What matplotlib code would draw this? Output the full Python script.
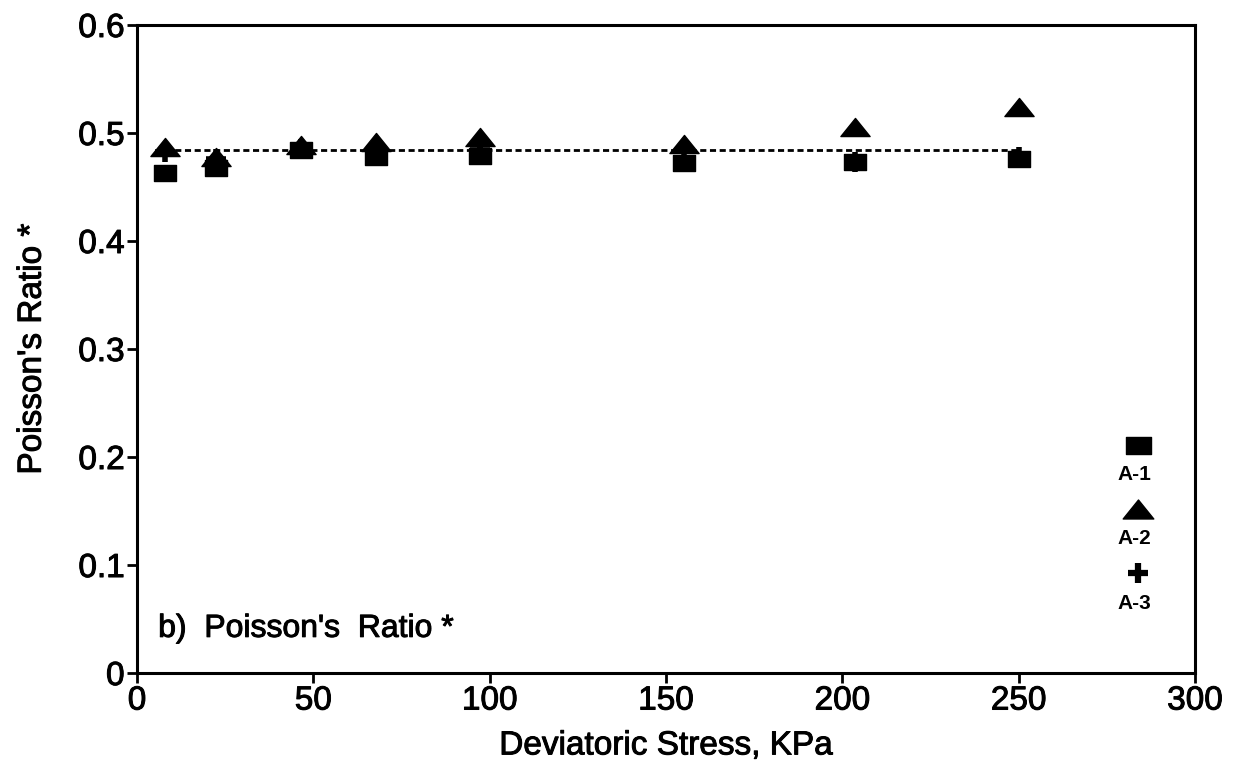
import matplotlib
matplotlib.use("Agg")
import matplotlib.pyplot as plt
import matplotlib.patheffects as pe
from matplotlib.path import Path

plt.rcParams['font.family'] = ['Liberation Sans', 'DejaVu Sans']

# Deviatoric stress levels (kPa)
stress = [8, 22.5, 46.5, 67.8, 97.3, 155.1, 203.5, 250]

# Poisson's ratio for each specimen
a1 = [0.463, 0.468, 0.484, 0.478, 0.479, 0.472, 0.473, 0.476]
a2 = [0.487, 0.478, 0.489, 0.492, 0.496, 0.490, 0.506, 0.524]
a3 = [0.482, 0.476, 0.485, 0.485, 0.484, 0.483, 0.473, 0.478]

# Average Poisson's ratio
mean_ratio = 0.484

series_names = ["A-1", "A-2", "A-3"]

# Slightly heavier text strokes
ink = [pe.withStroke(linewidth=0.7, foreground='black')]

# Marker shapes: flat rectangle and squat triangle
rect = Path([(-1, -0.68), (1, -0.68), (1, 0.68), (-1, 0.68), (-1, -0.68)],
            [Path.MOVETO, Path.LINETO, Path.LINETO, Path.LINETO, Path.CLOSEPOLY])
tri = Path([(-1, -0.62), (1, -0.62), (0, 0.62), (-1, -0.62)],
           [Path.MOVETO, Path.LINETO, Path.LINETO, Path.CLOSEPOLY])

fig = plt.figure(figsize=(12.4, 7.69), dpi=100)
ax = fig.add_axes([0.1105, 0.1248, 0.8532, 0.8427])

ax.plot([stress[0], stress[-1]], [mean_ratio, mean_ratio], color='black',
        lw=2.0, linestyle=(0, (2.2, 1.3)), zorder=2)
ax.plot(stress, a3, linestyle='none', marker='+', markersize=15,
        markeredgewidth=4, color='black', zorder=3)
ax.plot(stress, a1, linestyle='none', marker=rect, markersize=16,
        color='black', zorder=4)
ax.plot(stress, a2, linestyle='none', marker=tri, markersize=21,
        color='black', zorder=5)

ax.set_xlim(0, 300)
ax.set_ylim(0, 0.6)
ax.set_xticks([0, 50, 100, 150, 200, 250, 300])
ax.set_yticks([0, 0.1, 0.2, 0.3, 0.4, 0.5, 0.6])
ax.set_yticklabels(['0', '0.1', '0.2', '0.3', '0.4', '0.5', '0.6'])
ax.tick_params(direction='out', length=7, width=2, labelsize=24, pad=2)
for lbl in ax.get_xticklabels() + ax.get_yticklabels():
    lbl.set_path_effects(ink)
for s in ax.spines.values():
    s.set_linewidth(2.2)

ax.set_xlabel("Deviatoric Stress, KPa", fontsize=24, labelpad=10,
              path_effects=ink)
ax.set_ylabel("Poisson's Ratio *", fontsize=24, labelpad=22,
              path_effects=ink)

ax.text(0.02, 0.045, "b)  Poisson's  Ratio *", transform=ax.transAxes,
        fontsize=23, ha='left', va='bottom', path_effects=ink)

# Key on the right: marker with its label underneath
key_markers = [dict(marker=rect, markersize=18),
               dict(marker=tri, markersize=22),
               dict(marker='+', markersize=15, markeredgewidth=4.5)]
key_x = 0.946
key_top = 0.352
key_step = 0.099
for i, (name, mk) in enumerate(zip(series_names, key_markers)):
    y = key_top - i * key_step
    ax.plot([key_x], [y], linestyle='none', color='black',
            transform=ax.transAxes, clip_on=False, **mk)
    ax.text(key_x - 0.003, y - 0.046, name, transform=ax.transAxes,
            fontsize=15, fontweight='bold', ha='center', va='center')

fig.savefig("out.png", dpi=100)
